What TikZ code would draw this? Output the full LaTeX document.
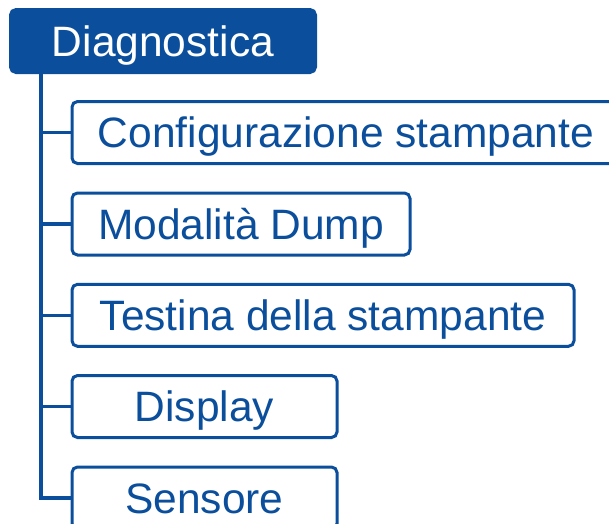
\documentclass[tikz,border=0pt]{standalone}
\usepackage{fontspec}
\setmainfont{Liberation Sans}
\definecolor{navy}{RGB}{11,79,156}
\begin{document}
\begin{tikzpicture}[x=1pt,y=1pt,
  base/.style={inner sep=0pt, rounded corners=5.5pt, line width=3pt,
    font=\fontsize{42.5pt}{46pt}\selectfont, text height=30.4pt, text depth=0pt,
    minimum height=62pt},
  rootbox/.style={base, fill=navy, draw=navy, text=white, minimum height=63pt},
  childbox/.style={base, draw=navy, text=navy, fill=white},
  link/.style={draw=navy, line width=3.5pt}]
\useasboundingbox (0,0) rectangle (609,-523);
\clip (0,0) rectangle (609,-523);
\node[rootbox, minimum width=305pt] (root) at (163,-41) {Diagnostica};
\node[childbox, minimum width=548pt] (c1) at (346,-132.5) {Configurazione stampante};
\node[childbox, minimum width=338pt] (c2) at (241,-224) {Modalità Dump};
\node[childbox, minimum width=502pt] (c3) at (323,-315.3) {Testina della stampante};
\node[childbox, minimum width=265pt] (c4) at (204.5,-406.5) {Display};
\node[childbox, minimum width=265pt] (c5) at (204.5,-498) {Sensore};
\coordinate (trunk) at ([xshift=32pt]root.south west);
\foreach \c in {c1,c2,c3,c4,c5}{
  \draw[link] (trunk) |- (\c.west);
}
\end{tikzpicture}
\end{document}
